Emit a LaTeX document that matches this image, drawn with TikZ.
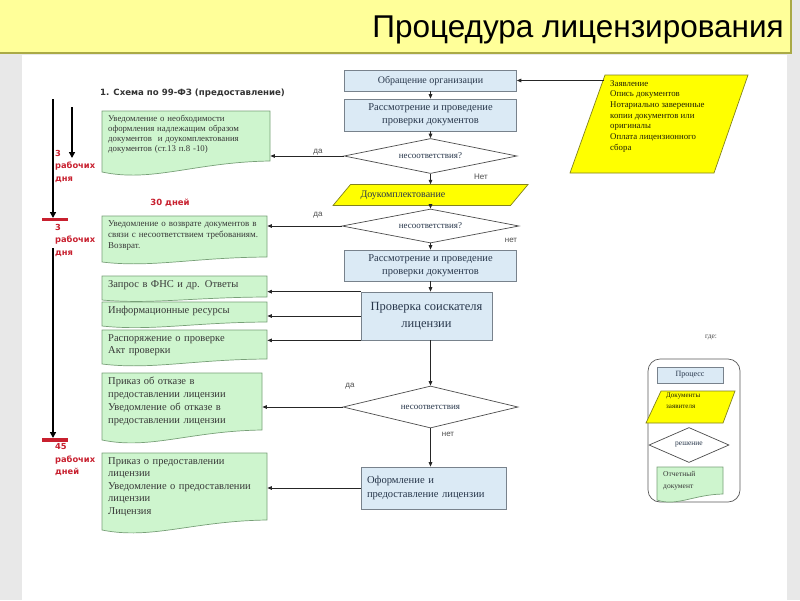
\documentclass[tikz,border=0pt]{standalone}
\usepackage{fontspec}
\setmainfont{Liberation Serif}
\setsansfont{Liberation Sans}
\newfontfamily\titlefont{Liberation Sans}
\newfontfamily\headfont{DejaVu Sans}
\usetikzlibrary{shapes.geometric,arrows.meta,backgrounds}
\definecolor{titleyellow}{RGB}{255,255,153}
\definecolor{titleborder}{RGB}{170,170,70}
\definecolor{pagegray}{RGB}{232,232,232}
\definecolor{boxblue}{RGB}{219,234,245}
\definecolor{boxborder}{RGB}{120,130,140}
\definecolor{boxtext}{RGB}{40,55,75}
\definecolor{docgreen}{RGB}{206,245,206}
\definecolor{docborder}{RGB}{120,160,120}
\definecolor{doctextc}{RGB}{55,55,55}
\definecolor{yel}{RGB}{255,255,0}
\definecolor{yelborder}{RGB}{130,130,30}
\definecolor{redlbl}{RGB}{200,32,47}
\newcommand\fs[2]{\fontsize{#1}{#2}\selectfont}
\newcommand\gdoc[8]{%
  \path[docfill] (#2,#3) -- (#4,#3) -- (#4,#6)
    .. controls ({#4-0.45*(#4-#2)},{#6+0.1*(#5-#6)}) and ({#2+0.3*(#4-#2)},{#5+0.8*(#5-#6)+2}) .. (#2,#5) -- cycle;
  \pgfmathsetmacro\gdtw{#4-#2-12}%
  \node[doctext, font=#7, anchor=north west, text width=\gdtw pt] (#1) at (#2,#3) {#8};%
}
\tikzset{
  arr/.style={draw=black!85, line width=0.8pt, -{Triangle[length=4.5pt,width=3.6pt]}},
  tl/.style={draw=black, line width=1.8pt, -{Triangle[length=6pt,width=6pt]}},
  redbar/.style={draw=redlbl, line width=3.5pt},
  procbox/.style={draw=boxborder, fill=boxblue, line width=0.7pt, align=center, text=boxtext, inner sep=2pt},
  decision/.style={diamond, draw=black!70, fill=white, aspect=5, inner sep=0pt, line width=0.7pt, text=boxtext, font=\fs{9}{10}},
  docfill/.style={draw=docborder, fill=docgreen, line width=0.7pt},
  doctext/.style={align=left, text=doctextc, inner xsep=6pt, inner ysep=4pt},
  parafill/.style={draw=yelborder, fill=yel, line width=0.7pt},
  yn/.style={font=\sffamily\fs{8}{9}, text=black!70},
  redtxt/.style={font=\headfont\bfseries\fs{8.3}{12.5}, text=redlbl, align=left, anchor=north west, inner sep=0pt},
}
\begin{document}
\begin{tikzpicture}[x=1pt,y=-1pt]
\useasboundingbox (0,0) rectangle (800,600);
% page background
\begin{pgfonlayer}{background}
\fill[pagegray] (0,0) rectangle (800,600);
\fill[white] (22,55) rectangle (787,600);
\end{pgfonlayer}
\fill[titleyellow] (0,0) rectangle (791,53);
\draw[titleborder, line width=1.2pt] (0,53) -- (791,53) -- (791,0);
\node[font=\titlefont\fs{31.5}{34}, anchor=base east, inner sep=0pt] (title) at (784,37) {Процедура лицензирования};

% heading
\node[font=\headfont\bfseries\fs{8.6}{10}, text=black!80, anchor=west, inner sep=0pt] (head) at (100,93) {1. Схема по 99-ФЗ (предоставление)};
\node[font=\headfont\bfseries\fs{8.5}{10}, text=redlbl, inner sep=0pt] (d30) at (170,203) {30 дней};

% timeline
\coordinate (t0) at (53,99);
\coordinate (t1) at (53,218);
\coordinate (t2) at (53,248);
\coordinate (t3) at (53,438);
\coordinate (s0) at (72,107);
\coordinate (s1) at (72,158);
\draw[tl] (t0) -- (t1);
\draw[tl] (t2) -- (t3);
\draw[tl] (s0) -- (s1);
\coordinate (b1l) at (42,219.5);
\coordinate (b1r) at (68,219.5);
\coordinate (b2l) at (42,440);
\coordinate (b2r) at (68,440);
\draw[redbar] (b1l) -- (b1r);
\draw[redbar] (b2l) -- (b2r);
\node[redtxt] (r3a) at (55,150) {3\\рабочих\\дня};
\node[redtxt] (r3b) at (55,224) {3\\рабочих\\дня};
\node[redtxt] (r45) at (55,443.5) {45\\рабочих\\дней};

% green documents
\gdoc{g1}{102}{111}{270}{172}{161}{\fs{8.8}{10}}{Уведомление о необходимости\\оформления надлежащим образом\\документов \ и доукомплектования\\документов (ст.13 п.8 -10)}
\gdoc{g2}{102}{216}{267}{262}{257}{\fs{9}{11}}{Уведомление о возврате документов в\\связи с несоответствием требованиям.\\Возврат.}
\gdoc{g3}{102}{276}{267}{300}{297}{\fs{10.5}{12.5}}{Запрос в ФНС и др. Ответы}
\gdoc{g4}{102}{302}{267}{326}{322}{\fs{10.5}{12.5}}{Информационные ресурсы}
\gdoc{g5}{102}{330}{267}{364}{359}{\fs{10.5}{12.5}}{Распоряжение о проверке\\Акт проверки}
\gdoc{g6}{102}{373}{262}{440}{430}{\fs{10.5}{13}}{Приказ об отказе в\\предоставлении лицензии\\Уведомление об отказе в\\предоставлении лицензии}
\gdoc{g7}{102}{453}{267}{530}{520}{\fs{10.5}{12.5}}{Приказ о предоставлении\\лицензии\\Уведомление о предоставлении\\лицензии\\Лицензия}

% central column
\node[procbox, minimum width=172, minimum height=21, font=\fs{10}{12}] (ob) at (430.5,80.5) {Обращение организации};
\node[procbox, minimum width=172, minimum height=32, font=\fs{10.5}{13}] (r1) at (430.5,115) {Рассмотрение и проведение\\проверки документов};
\node[decision, minimum width=173, minimum height=35] (d1) at (430.5,156) {несоответствия?};
\path[parafill] (350.5,184.5) -- (528,184.5) -- (510.5,205.5) -- (333,205.5) -- cycle;
\node[minimum width=177, minimum height=21, text width=140pt, align=left, font=\fs{10}{12}, text=boxtext, inner sep=0pt] (dk) at (430.5,195) {Доукомплектование};
\node[decision, minimum width=177, minimum height=34] (d2) at (430.5,226) {несоответствия?};
\node[procbox, minimum width=172, minimum height=31, font=\fs{10.5}{13}] (r2) at (430.5,265.5) {Рассмотрение и проведение\\проверки документов};
\node[procbox, minimum width=131, minimum height=48, font=\fs{12.5}{17}] (pr) at (426.5,316) {Проверка соискателя\\лицензии};
\node[decision, minimum width=175, minimum height=42] (d3) at (430.5,407) {несоответствия};
\node[procbox, minimum width=145, minimum height=42, text width=133pt, align=left, font=\fs{10.6}{14}] (of) at (433.5,488) {Оформление и\\предоставление лицензии};

\draw[arr] (ob) -- (r1);
\draw[arr] (r1) -- (d1);
\draw[arr] (d1) -- (dk);
\draw[arr] (dk) -- (d2);
\draw[arr] (d2) -- (r2);
\draw[arr] (r2.south) -- (r2.south |- pr.north);
\draw[arr] (r2.south |- pr.south) -- (d3.north);
\draw[arr] (d3.south) -- (d3.south |- of.north);

\draw[arr] (d1.west) -- (d1.west -| g1.east);
\draw[arr] (d2.west) -- (d2.west -| g2.east);
\draw[arr] (pr.north west) -- (pr.north west -| g3.east);
\draw[arr] (pr.west) -- (pr.west -| g4.east);
\draw[arr] (pr.south west) -- (pr.south west -| g5.east);
\draw[arr] (d3.west) -- (d3.west -| g6.east);
\draw[arr] (of.west) -- (of.west -| g7.east);

\node[yn] (y1) at (318,152) {да};
\node[yn] (n1) at (481,177) {Нет};
\node[yn] (y2) at (318,215) {да};
\node[yn] (n2) at (511,240) {нет};
\node[yn] (y3) at (350,386) {да};
\node[yn] (n3) at (448,434) {нет};

% applicant documents
\path[parafill] (605,75) -- (748,75) -- (714,173) -- (570,173) -- cycle;
\node[anchor=north west, align=left, font=\fs{8.8}{10.7}, text=black!75!yelborder, inner xsep=6pt, inner ysep=2pt] (zv) at (604,78) {Заявление\\Опись документов\\Нотариально заверенные\\копии документов или\\оригиналы\\Оплата лицензионного\\сбора};
\draw[arr] (zv.north west |- ob.east) -- (ob.east);

% legend
\node[font=\fs{7.5}{9}, text=black!70, inner sep=0pt] (gde) at (711,337) {где:};
\node[draw=black!65, line width=0.7pt, rounded corners=12pt, minimum width=92, minimum height=143] (lg) at (694,430.5) {};
\node[procbox, minimum width=66, minimum height=16, font=\fs{8}{9}] (lp) at (690,375) {Процесс};
\path[parafill] (661,391) -- (735,391) -- (723,423) -- (646,423) -- cycle;
\node[anchor=north west, align=left, font=\fs{7}{10.5}, text=black!75!yelborder, inner sep=1pt] (ly) at (665,392) {Документы\\заявителя};
\node[decision, minimum width=80, minimum height=35, font=\fs{7.5}{9}] (ld) at (689,445) {решение};
\gdoc{ldoc}{657}{467}{723}{500}{494}{\fs{7.5}{12}}{Отчетный\\документ}
\end{tikzpicture}
\end{document}
